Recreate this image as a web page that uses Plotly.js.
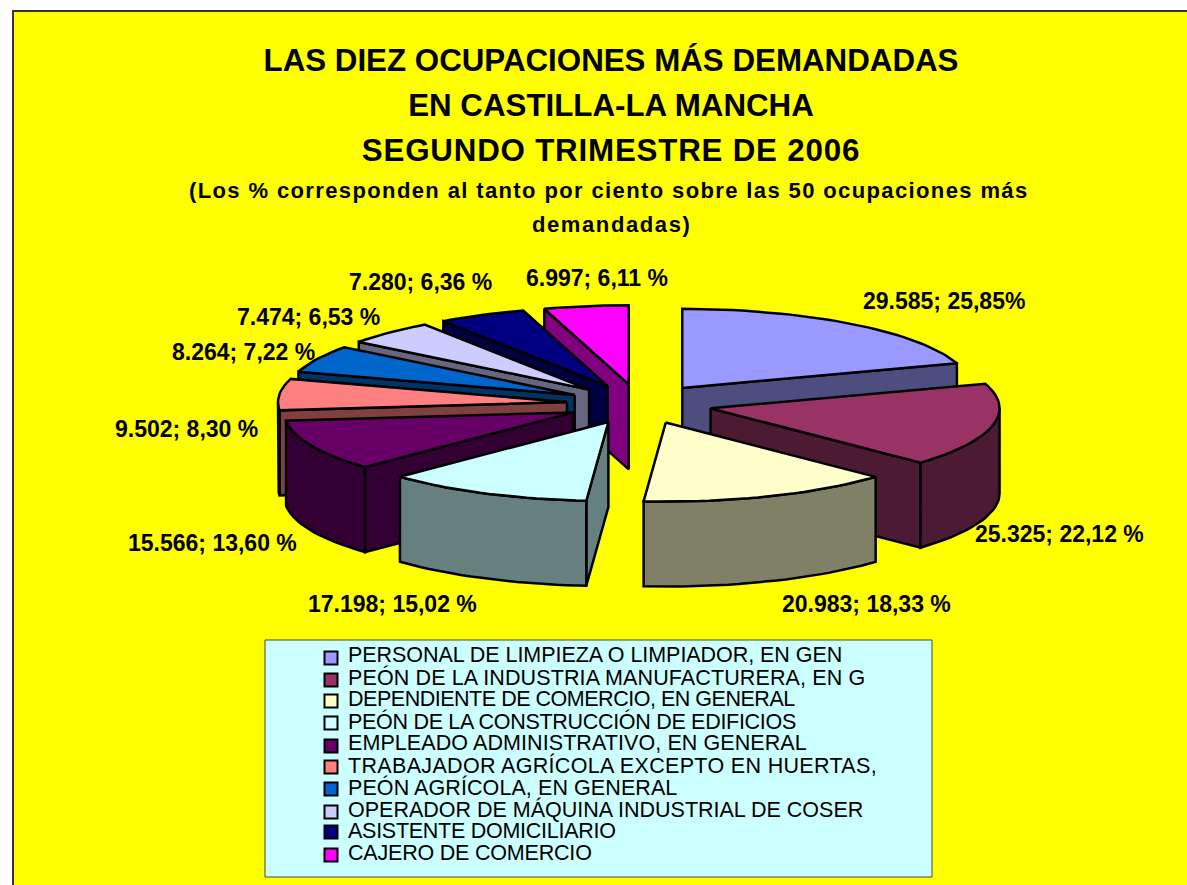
<!DOCTYPE html>
<html><head><meta charset="utf-8">
<script src="https://cdn.plot.ly/plotly-3.0.1.min.js"></script>
<style>html,body{margin:0;padding:0;background:#fff}#c{width:1187px;height:885px}</style>
</head><body><div id="c"></div>
<script>
const categories = [
 "PERSONAL DE LIMPIEZA O LIMPIADOR, EN GEN",
 "PEÓN DE LA INDUSTRIA MANUFACTURERA, EN G",
 "DEPENDIENTE DE COMERCIO, EN GENERAL",
 "PEÓN DE LA CONSTRUCCIÓN DE EDIFICIOS",
 "EMPLEADO ADMINISTRATIVO, EN GENERAL",
 "TRABAJADOR AGRÍCOLA EXCEPTO EN HUERTAS,",
 "PEÓN AGRÍCOLA, EN GENERAL",
 "OPERADOR DE MÁQUINA INDUSTRIAL DE COSER",
 "ASISTENTE DOMICILIARIO",
 "CAJERO DE COMERCIO"];
const values = [29585,25325,20983,17198,15566,9502,8264,7474,7280,6997];
const percentLabels = ["25,85%","22,12 %","18,33 %","15,02 %","13,60 %","8,30 %","7,22 %","6,53 %","6,36 %","6,11 %"];
const topColors = ["#9999FF","#993366","#FFFFCC","#CCFFFF","#660066","#FF8080","#0066CC","#CCCCFF","#000080","#FF00FF"];
const wallColors = ["#4D4D80","#4D1A33","#808066","#668080","#330033","#804040","#003366","#666680","#000040","#800080"];

// pie geometry (pixel axes)
const CX=639.5, CY=404, RX=289, RY=79, H=85, EXPLODE=0.252;
const order=[0,9,8,7,6,5,1,4,3,2];
const labelX=[944,1059,866,392,212,186,243,308,420,597];
const labelY=[301,534,604,604,543,429,352,317,282,278];
const legendY=[658,680,701,723,746,767,789,812,832,855];
const legendTextY=[655,677,699,721,743,765,787,809,831,853];
const legendSpacing=[-0.05,0.12,-0.48,-0.3,0.08,0.33,0.08,0,-0.27,-0.2];

const total=values.reduce((a,b)=>a+b,0);
const rad=d=>d*Math.PI/180;
const starts=[]; let acc=0;
values.forEach(v=>{starts.push(acc/total*360); acc+=v;});
const fmt=v=>String(v).replace(/\B(?=(\d{3})+$)/g,".");

const traces=[];
function poly(xs,ys,color,name){
  traces.push({type:"scatter",mode:"lines",x:xs.concat(xs[0]),y:ys.concat(ys[0]),fill:"toself",
    fillcolor:color,line:{color:"#000",width:2.5,shape:"linear"},showlegend:false,name:name,hoverinfo:"name"});
}
order.forEach(i=>{
  const a=starts[i], b=a+values[i]/total*360, m=(a+b)/2;
  const ax=CX+EXPLODE*RX*Math.sin(rad(m)), ay=CY-EXPLODE*RY*Math.cos(rad(m));
  const px=t=>ax+RX*Math.sin(rad(t)), py=t=>ay-RY*Math.cos(rad(t));
  const name=categories[i];
  if(Math.sin(rad(a))<-1e-6) poly([ax,px(a),px(a),ax],[ay,py(a),py(a)+H,ay+H],wallColors[i],name);
  if(Math.sin(rad(b))>1e-6) poly([ax,px(b),px(b),ax],[ay,py(b),py(b)+H,ay+H],wallColors[i],name);
  const w0=Math.max(a,90), w1=Math.min(b,270);
  if(w1>w0){
    const tx=[],ty=[],bx=[],by=[];
    for(let t=w0;t<w1;t+=2){tx.push(px(t));ty.push(py(t));}
    tx.push(px(w1));ty.push(py(w1));
    for(let k=tx.length-1;k>=0;k--){bx.push(tx[k]);by.push(ty[k]+H);}
    poly(tx.concat(bx),ty.concat(by),wallColors[i],name);
  }
  const xs=[ax],ys=[ay];
  for(let t=a;t<b;t+=2){xs.push(px(t));ys.push(py(t));}
  xs.push(px(b));ys.push(py(b));
  poly(xs,ys,topColors[i],name);
});
traces.push({type:"scatter",mode:"markers",x:categories.map(()=>331),y:legendY,
  marker:{symbol:"square",size:13,color:topColors,line:{color:"#000",width:2}},
  showlegend:false,text:categories,hoverinfo:"text"});

const ann=[];
const T=(x,y,text,size,bold,anchor)=>ann.push({x,y,xref:"x",yref:"y",text:bold?"<b>"+text+"</b>":text,showarrow:false,
  xanchor:anchor||"center",yanchor:"middle",font:{family:"Liberation Sans, Arial, sans-serif",size,color:"#000"}});
const spaced=(s,n)=>'<span style="letter-spacing:'+n+'px">'+s+'</span>';
T(609,190,spaced("(Los % corresponden al tanto por ciento sobre las 50 ocupaciones más",1.38),22,true);
T(611,224,spaced("demandadas)",1.6),22,true);
values.forEach((v,i)=>T(labelX[i],labelY[i],fmt(v)+"; "+percentLabels[i],23,true));
categories.forEach((c,i)=>T(346,legendTextY[i],spaced(c,legendSpacing[i]),21.5,false,"left"));

const big='<span style="font-size:31.3px">', big3='<span style="font-size:31.3px;letter-spacing:0.8px">';
const layout={
  width:1187,height:885,margin:{l:0,r:0,t:0,b:0,pad:0},paper_bgcolor:"#fff",plot_bgcolor:"rgba(0,0,0,0)",
  showlegend:false,
  title:{text:'<b>'+big+'LAS DIEZ OCUPACIONES MÁS DEMANDADAS</span><br>'+big+'EN CASTILLA-LA MANCHA</span><br>'+big3+'SEGUNDO TRIMESTRE DE 2006</span></b>',
    font:{family:"Liberation Sans, Arial, sans-serif",size:34.6,color:"#000"},
    x:611/1187,xanchor:"center",xref:"paper",y:1-71/885,yanchor:"top",yref:"paper"},
  xaxis:{range:[0,1187],visible:false,fixedrange:true},
  yaxis:{range:[885,0],visible:false,fixedrange:true},
  shapes:[
   {type:"rect",xref:"x",yref:"y",x0:13,y0:11,x1:1200,y1:900,fillcolor:"#FFFF00",line:{color:"#333",width:2},layer:"below"},
   {type:"rect",xref:"x",yref:"y",x0:265,y0:640,x1:932,y1:877,fillcolor:"#CCFFFF",line:{color:"#444",width:1},layer:"below"}
  ],
  annotations:ann
};
Plotly.newPlot("c",traces,layout,{displayModeBar:false,staticPlot:true});
</script></body></html>
